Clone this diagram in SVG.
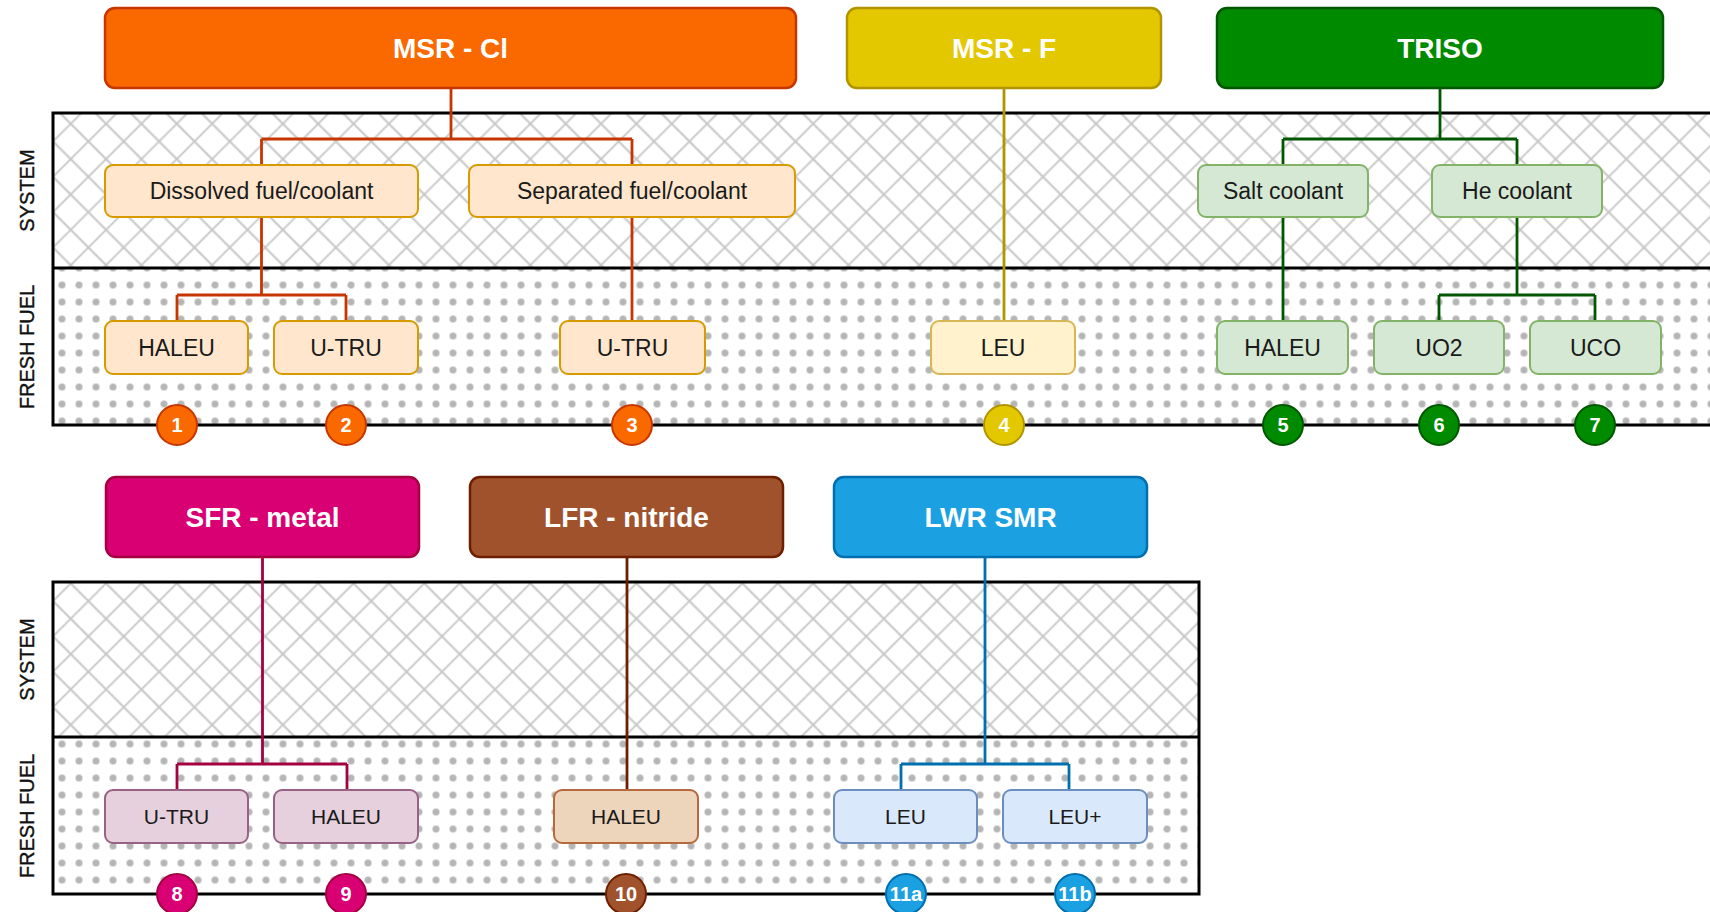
<svg xmlns="http://www.w3.org/2000/svg" width="1710" height="912" viewBox="0 0 1710 912">
<style>
  text { font-family: "Liberation Sans", Arial, sans-serif; text-anchor: middle; }
  .title { font-size: 28px; font-weight: bold; fill: #ffffff; }
  .sub { font-size: 23px; fill: #1a1a1a; }
  .fuel2 { font-size: 21px; fill: #1a1a1a; }
  .side { font-size: 20px; fill: #111111; stroke: #111111; stroke-width: 0.4; }
  .num { font-size: 20px; font-weight: bold; fill: #ffffff; }
  .panel { stroke: #000000; stroke-width: 3; }
  .conn { fill: none; stroke-width: 2.8; }
  .tbox { stroke-width: 2.5; }
  .sbox { stroke-width: 2; }
  .badge { stroke-width: 2; }
</style>
<defs>
  <pattern id="hatch" patternUnits="userSpaceOnUse" width="25" height="25" patternTransform="rotate(45)">
    <path d="M12.5,0 V25 M0,12.5 H25" stroke="#c6c6c6" stroke-width="1.8" fill="none"/>
  </pattern>
  <pattern id="dots" patternUnits="userSpaceOnUse" x="2.5" y="4.5" width="17" height="17">
    <circle cx="8.5" cy="8.5" r="3.5" fill="#b5b5b5"/>
  </pattern>
</defs>
<rect width="1710" height="912" fill="#ffffff"/>

<g id="panels">
  <rect x="53" y="113" width="1670" height="155" fill="#ffffff"/>
  <rect x="53" y="113" width="1670" height="155" fill="url(#hatch)"/>
  <rect x="53" y="268" width="1670" height="157" fill="#ffffff"/>
  <rect x="53" y="268" width="1670" height="157" fill="url(#dots)"/>
  <path class="panel" fill="none" d="M1715,113 H53 V425 H1715 M53,268 H1715"/>
  <rect x="53" y="582" width="1146" height="155" fill="#ffffff"/>
  <rect x="53" y="582" width="1146" height="155" fill="url(#hatch)"/>
  <rect x="53" y="737" width="1146" height="157" fill="#ffffff"/>
  <rect x="53" y="737" width="1146" height="157" fill="url(#dots)"/>
  <rect class="panel" x="53" y="582" width="1146" height="312" fill="none"/>
  <line class="panel" x1="53" y1="737" x2="1199" y2="737"/>
  <text class="side" transform="translate(34,190.5) rotate(-90)">SYSTEM</text>
  <text class="side" transform="translate(34,347) rotate(-90)">FRESH FUEL</text>
  <text class="side" transform="translate(34,659.5) rotate(-90)">SYSTEM</text>
  <text class="side" transform="translate(34,816) rotate(-90)">FRESH FUEL</text>
</g>

<g id="connectors">
  <path class="conn" stroke="#C73500" d="M451,88 V139 M261.5,139 H632 M261.5,139 V165 M632,139 V165 M261.5,217 V295 M177,295 H346 M177,295 V321 M346,295 V321 M632,217 V321"/>
  <path class="conn" stroke="#B09500" d="M1004,88 V321"/>
  <path class="conn" stroke="#005700" d="M1440,88 V139 M1283,139 H1517 M1283,139 V165 M1517,139 V165 M1283,217 V321 M1517,217 V295 M1439,295 H1595 M1439,295 V321 M1595,295 V321"/>
  <path class="conn" stroke="#A50040" d="M262.5,557 V764 M177,764 H347 M177,764 V790 M347,764 V790"/>
  <path class="conn" stroke="#6D1F00" d="M627,557 V790"/>
  <path class="conn" stroke="#006EAF" d="M985,557 V764 M901,764 H1069 M901,764 V790 M1069,764 V790"/>
</g>

<g id="node-msr-cl">
  <rect class="tbox" x="105" y="8" width="691" height="80" rx="10" fill="#FA6800" stroke="#C73500"/>
  <text class="title" x="450.5" y="57.5">MSR - Cl</text>
</g>
<g id="node-msr-f">
  <rect class="tbox" x="847" y="8" width="314" height="80" rx="10" fill="#E3C800" stroke="#B09500"/>
  <text class="title" x="1004" y="57.5">MSR - F</text>
</g>
<g id="node-triso">
  <rect class="tbox" x="1217" y="8" width="446" height="80" rx="10" fill="#008A00" stroke="#005700"/>
  <text class="title" x="1440" y="57.5">TRISO</text>
</g>

<g id="node-dissolved">
  <rect class="sbox" x="105" y="165" width="313" height="52" rx="8" fill="#FFE6CC" stroke="#D79B00"/>
  <text class="sub" x="261.5" y="199">Dissolved fuel/coolant</text>
</g>
<g id="node-separated">
  <rect class="sbox" x="469" y="165" width="326" height="52" rx="8" fill="#FFE6CC" stroke="#D79B00"/>
  <text class="sub" x="632" y="199">Separated fuel/coolant</text>
</g>
<g id="node-salt">
  <rect class="sbox" x="1198" y="165" width="170" height="52" rx="8" fill="#D5E8D4" stroke="#82B366"/>
  <text class="sub" x="1283" y="199">Salt coolant</text>
</g>
<g id="node-he">
  <rect class="sbox" x="1432" y="165" width="170" height="52" rx="8" fill="#D5E8D4" stroke="#82B366"/>
  <text class="sub" x="1517" y="199">He coolant</text>
</g>

<g id="node-f1">
  <rect class="sbox" x="105" y="321" width="143" height="53" rx="8" fill="#FFE6CC" stroke="#D79B00"/>
  <text class="sub" x="176.5" y="356">HALEU</text>
</g>
<g id="node-f2">
  <rect class="sbox" x="274" y="321" width="144" height="53" rx="8" fill="#FFE6CC" stroke="#D79B00"/>
  <text class="sub" x="346" y="356">U-TRU</text>
</g>
<g id="node-f3">
  <rect class="sbox" x="560" y="321" width="145" height="53" rx="8" fill="#FFE6CC" stroke="#D79B00"/>
  <text class="sub" x="632.5" y="356">U-TRU</text>
</g>
<g id="node-f4">
  <rect class="sbox" x="931" y="321" width="144" height="53" rx="8" fill="#FFF2CC" stroke="#D6B656"/>
  <text class="sub" x="1003" y="356">LEU</text>
</g>
<g id="node-f5">
  <rect class="sbox" x="1217" y="321" width="131" height="53" rx="8" fill="#D5E8D4" stroke="#82B366"/>
  <text class="sub" x="1282.5" y="356">HALEU</text>
</g>
<g id="node-f6">
  <rect class="sbox" x="1374" y="321" width="130" height="53" rx="8" fill="#D5E8D4" stroke="#82B366"/>
  <text class="sub" x="1439" y="356">UO2</text>
</g>
<g id="node-f7">
  <rect class="sbox" x="1530" y="321" width="131" height="53" rx="8" fill="#D5E8D4" stroke="#82B366"/>
  <text class="sub" x="1595.5" y="356">UCO</text>
</g>

<g id="node-sfr">
  <rect class="tbox" x="106" y="477" width="313" height="80" rx="10" fill="#D80073" stroke="#A50040"/>
  <text class="title" x="262.5" y="527">SFR - metal</text>
</g>
<g id="node-lfr">
  <rect class="tbox" x="470" y="477" width="313" height="80" rx="10" fill="#A0522D" stroke="#6D1F00"/>
  <text class="title" x="626.5" y="527">LFR - nitride</text>
</g>
<g id="node-lwr">
  <rect class="tbox" x="834" y="477" width="313" height="80" rx="10" fill="#1BA1E2" stroke="#006EAF"/>
  <text class="title" x="990.5" y="527">LWR SMR</text>
</g>

<g id="node-f8">
  <rect class="sbox" x="105" y="790" width="143" height="53" rx="8" fill="#E6D0DE" stroke="#996185"/>
  <text class="fuel2" x="176.5" y="824">U-TRU</text>
</g>
<g id="node-f9">
  <rect class="sbox" x="274" y="790" width="144" height="53" rx="8" fill="#E6D0DE" stroke="#996185"/>
  <text class="fuel2" x="346" y="824">HALEU</text>
</g>
<g id="node-f10">
  <rect class="sbox" x="554" y="790" width="144" height="53" rx="8" fill="#EDD5BC" stroke="#B5693D"/>
  <text class="fuel2" x="626" y="824">HALEU</text>
</g>
<g id="node-f11a">
  <rect class="sbox" x="834" y="790" width="143" height="53" rx="8" fill="#DAE8FC" stroke="#6C8EBF"/>
  <text class="fuel2" x="905.5" y="824">LEU</text>
</g>
<g id="node-f11b">
  <rect class="sbox" x="1003" y="790" width="144" height="53" rx="8" fill="#DAE8FC" stroke="#6C8EBF"/>
  <text class="fuel2" x="1075" y="824">LEU+</text>
</g>

<g id="badges">
  <circle class="badge" cx="177" cy="425" r="20" fill="#FA6800" stroke="#C73500"/>
  <text class="num" x="177" y="432">1</text>
  <circle class="badge" cx="346" cy="425" r="20" fill="#FA6800" stroke="#C73500"/>
  <text class="num" x="346" y="432">2</text>
  <circle class="badge" cx="632" cy="425" r="20" fill="#FA6800" stroke="#C73500"/>
  <text class="num" x="632" y="432">3</text>
  <circle class="badge" cx="1004" cy="425" r="20" fill="#E3C800" stroke="#B09500"/>
  <text class="num" x="1004" y="432">4</text>
  <circle class="badge" cx="1283" cy="425" r="20" fill="#008A00" stroke="#005700"/>
  <text class="num" x="1283" y="432">5</text>
  <circle class="badge" cx="1439" cy="425" r="20" fill="#008A00" stroke="#005700"/>
  <text class="num" x="1439" y="432">6</text>
  <circle class="badge" cx="1595" cy="425" r="20" fill="#008A00" stroke="#005700"/>
  <text class="num" x="1595" y="432">7</text>
  <circle class="badge" cx="177" cy="894" r="20" fill="#D80073" stroke="#A50040"/>
  <text class="num" x="177" y="901">8</text>
  <circle class="badge" cx="346" cy="894" r="20" fill="#D80073" stroke="#A50040"/>
  <text class="num" x="346" y="901">9</text>
  <circle class="badge" cx="626" cy="894" r="20" fill="#A0522D" stroke="#6D1F00"/>
  <text class="num" x="626" y="901">10</text>
  <circle class="badge" cx="906" cy="894" r="20" fill="#1BA1E2" stroke="#006EAF"/>
  <text class="num" x="906" y="901">11a</text>
  <circle class="badge" cx="1075" cy="894" r="20" fill="#1BA1E2" stroke="#006EAF"/>
  <text class="num" x="1075" y="901">11b</text>
</g>
</svg>
